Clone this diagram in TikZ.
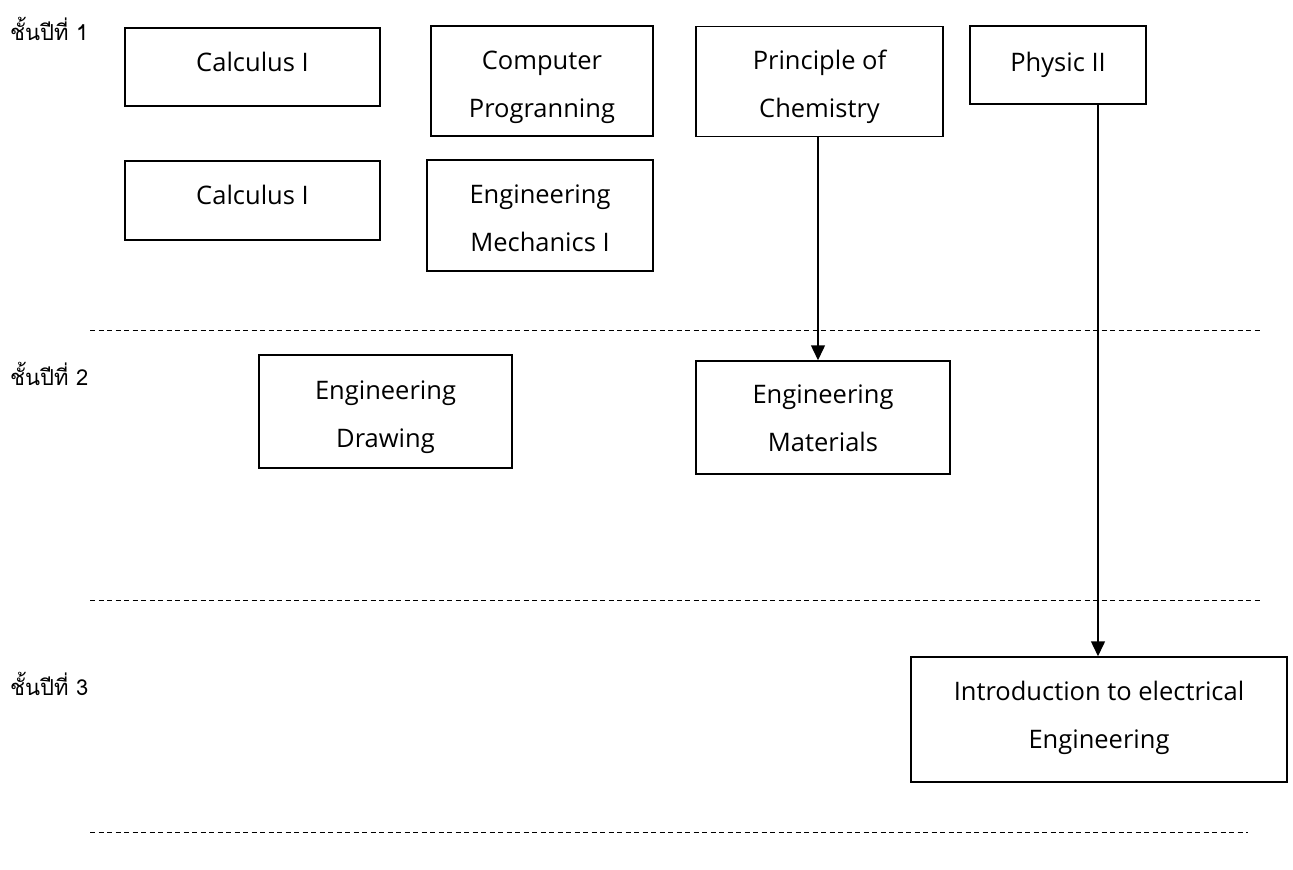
\documentclass[tikz,border=0pt]{standalone}
\usepackage{fontspec}
\newfontfamily\thaifont[Script=Thai]{Loma}
\newfontfamily\boxfont{Open Sans}
\usetikzlibrary{arrows.meta}
\newcommand\boxtext[2]{\raisebox{-#1}[0pt][0pt]{\begin{tabular}{@{}c@{}}#2\end{tabular}}}
\tikzset{
  box/.style={draw, line width=1.5pt, rectangle, inner sep=0pt,
    font=\boxfont\fontsize{25.5}{48}\selectfont},
  yearlabel/.style={anchor=base west, inner sep=0pt, font=\thaifont\fontsize{22}{26}\selectfont},
  divider/.style={line width=0.9pt, dash pattern=on 5pt off 3.5pt},
  link/.style={line width=1.5pt, -{Triangle[length=15pt,width=14pt]}}
}
\begin{document}
\begin{tikzpicture}[x=1pt,y=-1pt]
\useasboundingbox (0,0) rectangle (1293,870);
% year labels
\node[yearlabel] (y1) at (10,40) {ชั้นปีที่ 1};
\node[yearlabel] (y2) at (10,385) {ชั้นปีที่ 2};
\node[yearlabel] (y3) at (10,695) {ชั้นปีที่ 3};
% dividers
\draw[divider] (90,330) -- (1262,330);
\draw[divider] (90,600) -- (1262,600);
\draw[divider] (90,832) -- (1248,832);
% year 1
\node[box, minimum width=255pt, minimum height=78pt] (calc1) at (252.5,67) {\boxtext{1pt}{Calculus I}};
\node[box, minimum width=255pt, minimum height=79pt] (calc2) at (252.5,200.5) {\boxtext{1pt}{Calculus I}};
\node[box, minimum width=222pt, minimum height=110pt] (comp) at (542,81) {\boxtext{9pt}{Computer\\Progranning}};
\node[box, minimum width=226pt, minimum height=111pt] (mech) at (540,215.5) {\boxtext{8.5pt}{Engineering\\Mechanics I}};
\node[box, minimum width=247pt, minimum height=110pt] (chem) at (819.5,81.5) {\boxtext{9pt}{Principle of\\Chemistry}};
\node[box, minimum width=176pt, minimum height=78pt] (phys) at (1058,65) {\boxtext{3pt}{Physic II}};
% year 2
\node[box, minimum width=253pt, minimum height=113pt] (draw) at (385.5,411.5) {\boxtext{8.5pt}{Engineering\\Drawing}};
\node[box, minimum width=254pt, minimum height=113pt] (mat) at (823,417.5) {\boxtext{6.5pt}{Engineering\\Materials}};
% year 3
\node[box, minimum width=376pt, minimum height=125pt] (intro) at (1099,719.5) {\boxtext{1.5pt}{Introduction to electrical\\Engineering}};
% connectors
\draw[link] (chem.south -| 818,0) -- (818,0 |- mat.north);
\draw[link] (1098,0 |- phys.south) -- (1098,0 |- intro.north);
\end{tikzpicture}
\end{document}
